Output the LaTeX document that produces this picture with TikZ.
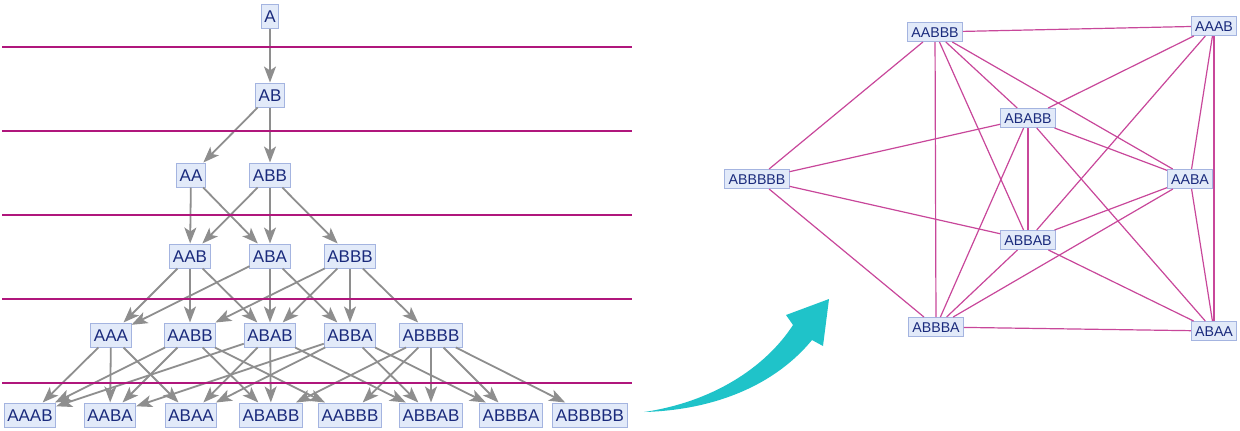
\documentclass[tikz,border=0pt]{standalone}
\usepackage{fontspec}
\setmainfont{Liberation Sans}
\usetikzlibrary{arrows.meta}

\definecolor{boxfill}{HTML}{E2EAF9}
\definecolor{boxline}{HTML}{A4B4E0}
\definecolor{boxtext}{HTML}{1A2A7C}
\definecolor{stepline}{HTML}{B0167C}
\definecolor{branchline}{HTML}{C8479A}
\definecolor{arrowgray}{HTML}{8E8E8E}
\definecolor{bigarrow}{HTML}{1FC3C9}

\tikzstyle{state}=[shape=rectangle,draw=boxline,fill=boxfill,text=boxtext,line width=0.5pt,font=\fontsize{8.5}{10}\selectfont,inner xsep=1.5pt,inner ysep=0pt,minimum height=12pt,text height=6.1pt,text depth=0pt]
\tikzstyle{bstate}=[state,font=\fontsize{7.1}{8.5}\selectfont,inner xsep=1.8pt,minimum height=9.5pt,text height=5.1pt]
\tikzstyle{evol}=[draw=arrowgray,line width=0.9pt,{Stealth[length=8pt,width=6pt,inset=2pt]}-]
\tikzstyle{branch}=[draw=branchline,line width=0.6pt]
\tikzstyle{stepsep}=[draw=stepline,line width=1.1pt]

\begin{document}
\begin{tikzpicture}[x=0.5pt,y=-0.5pt]
        \useasboundingbox (0,0) rectangle (1240,430);

        % evolution steps
        \node[state] (a) at (270,16) {A};
        \node[state] (ab) at (270,95) {AB}
            edge [evol] (a);
        \node[state] (aa) at (191,175) {AA}
            edge [evol] (ab);
        \node[state] (abb) at (270,175) {ABB}
            edge [evol] (ab);
        \node[state] (aab) at (190,256) {AAB}
            edge [evol] (aa) edge [evol] (abb);
        \node[state] (aba) at (270,256) {ABA}
            edge [evol] (aa) edge [evol] (abb);
        \node[state] (abbb) at (350,256) {ABBB}
            edge [evol] (abb);
        \node[state] (aaa) at (111,335) {AAA}
            edge [evol] (aab) edge [evol] (aba);
        \node[state] (aabb) at (190,335) {AABB}
            edge [evol] (aab) edge [evol] (abbb);
        \node[state] (abab) at (270,335) {ABAB}
            edge [evol] (aab) edge [evol] (aba) edge [evol] (abbb);
        \node[state] (abba) at (350,335) {ABBA}
            edge [evol] (aba) edge [evol] (abbb);
        \node[state] (abbbb) at (431,335) {ABBBB}
            edge [evol] (abbb);
        \node[state] (aaab) at (30,415) {AAAB}
            edge [evol] (aaa) edge [evol] (aabb) edge [evol] (abab);
        \node[state] (aaba) at (110,415) {AABA}
            edge [evol] (aaa) edge [evol] (aabb) edge [evol] (abba);
        \node[state] (abaa) at (191,415) {ABAA}
            edge [evol] (aaa) edge [evol] (abab) edge [evol] (abba);
        \node[state] (ababb) at (271,415) {ABABB}
            edge [evol] (aabb) edge [evol] (abab) edge [evol] (abbbb);
        \node[state] (aabbb) at (350,415) {AABBB}
            edge [evol] (aabb) edge [evol] (abbbb);
        \node[state] (abbab) at (431,415) {ABBAB}
            edge [evol] (abab) edge [evol] (abba) edge [evol] (abbbb);
        \node[state] (abbba) at (511,415) {ABBBA}
            edge [evol] (abba) edge [evol] (abbbb);
        \node[state] (abbbbb) at (590,415) {ABBBBB}
            edge [evol] (abbbb);

        % step separators
        \foreach \y in {47,131,215,299,383}
            \draw[stepsep] (2,\y) -- (632,\y);

        % branchial graph
        \node[bstate] (r-aabbb) at (935,32) {AABBB};
        \node[bstate] (r-aaab) at (1214,26) {AAAB};
        \node[bstate] (r-ababb) at (1028,118) {ABABB};
        \node[bstate] (r-aaba) at (1190,179) {AABA};
        \node[bstate] (r-abbbbb) at (757,179) {ABBBBB};
        \node[bstate] (r-abbab) at (1028,240) {ABBAB};
        \node[bstate] (r-abbba) at (936,327) {ABBBA};
        \node[bstate] (r-abaa) at (1214,331) {ABAA};
        \foreach \u/\v in {abaa/aaba,abaa/aaab,aaba/aaab,ababb/aabbb,ababb/aaab,
                ababb/aaba,aabbb/aaab,aabbb/aaba,abbab/ababb,abbab/aaab,abbab/abaa,
                ababb/abaa,abbba/abbab,abbba/aaba,abbba/abaa,abbab/aaba,
                abbbbb/aabbb,abbbbb/ababb,abbbbb/abbab,abbbbb/abbba,
                aabbb/abbab,aabbb/abbba,ababb/abbba}
            \draw[branch] (r-\u) -- (r-\v);

        % big arrow
        \fill[bigarrow] (644,412) .. controls (712,402) and (765,368) .. (793,325)
            -- (786,315) -- (829,299) -- (823,346) -- (812,340)
            .. controls (775,385) and (715,410) .. cycle;
    \end{tikzpicture}
\end{document}
